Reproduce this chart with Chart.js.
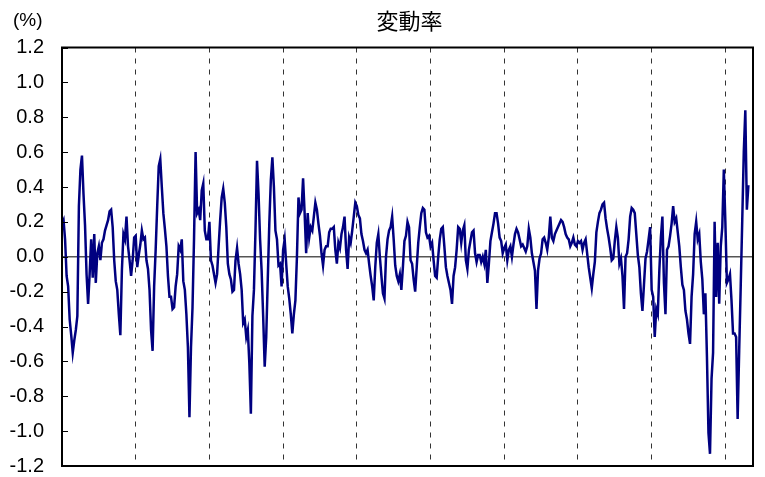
<!DOCTYPE html>
<html>
<head>
<meta charset="utf-8">
<script src="https://cdn.jsdelivr.net/npm/chart.js@4/dist/chart.umd.min.js"></script>
<style>
  html, body { margin: 0; padding: 0; background: #fff; }
</style>
</head>
<body>
<canvas id="chart" width="765" height="477"></canvas>
<script>
// Chart title and unit
const chartTitle = "変動率";
const unitLabel = "(%)";

// Y axis ticks
const yTicks = [-1.2, -1.0, -0.8, -0.6, -0.4, -0.2, 0.0, 0.2, 0.4, 0.6, 0.8, 1.0, 1.2];

// 48 points per year (about weekly), dashed line at each year boundary
const pointsPerYear = 48;
const totalSlots = 450;

// Rate of change (%)
const rateValues = [
  0.19, 0.21, 0.10, -0.11, -0.17, -0.36, -0.45, -0.55, -0.48, -0.42,
  -0.34, 0.29, 0.50, 0.58, 0.36, 0.18, -0.10, -0.27, -0.10, 0.10,
  -0.12, 0.13, -0.15, 0.02, 0.06, -0.02, 0.08, 0.10, 0.15, 0.18,
  0.21, 0.26, 0.27, 0.17, -0.02, -0.14, -0.19, -0.33, -0.45, -0.08,
  0.13, 0.10, 0.23, 0.06, -0.02, -0.11, -0.02, 0.11, 0.12, -0.06,
  0.01, 0.07, 0.15, 0.10, 0.11, -0.02, -0.07, -0.19, -0.42, -0.54,
  -0.17, 0.04, 0.29, 0.52, 0.56, 0.40, 0.25, 0.16, 0.06, -0.11,
  -0.23, -0.23, -0.30, -0.29, -0.17, -0.10, 0.06, 0.04, 0.10, -0.14,
  -0.19, -0.33, -0.52, -0.92, -0.52, -0.29, 0.11, 0.60, 0.25, 0.27,
  0.21, 0.38, 0.42, 0.15, 0.10, 0.10, 0.20, -0.02, -0.05, -0.10,
  -0.15, -0.10, 0.06, 0.21, 0.34, 0.39, 0.31, 0.17, -0.04, -0.10,
  -0.13, -0.20, -0.19, -0.02, 0.05, -0.04, -0.10, -0.19, -0.38, -0.36,
  -0.46, -0.42, -0.61, -0.90, -0.34, -0.19, 0.15, 0.55, 0.36, 0.10,
  -0.08, -0.34, -0.63, -0.46, -0.13, 0.19, 0.44, 0.57, 0.40, 0.15,
  0.10, -0.05, -0.04, -0.17, 0.04, 0.10, -0.04, -0.17, -0.24, -0.33,
  -0.44, -0.33, -0.25, 0.00, 0.34, 0.25, 0.27, 0.45, 0.25, 0.02,
  0.25, 0.11, 0.17, 0.15, 0.23, 0.31, 0.27, 0.19, 0.12, 0.02,
  -0.05, 0.04, 0.06, 0.06, 0.14, 0.16, 0.16, 0.17, 0.04, -0.04,
  0.08, 0.05, 0.13, 0.17, 0.23, 0.04, -0.07, 0.11, 0.08, 0.15,
  0.23, 0.31, 0.29, 0.24, 0.22, 0.13, 0.09, 0.04, 0.02, 0.04,
  -0.04, -0.11, -0.17, -0.25, -0.06, 0.08, 0.13, 0.00, -0.11, -0.21,
  -0.24, 0.00, 0.10, 0.15, 0.17, 0.23, 0.10, -0.05, -0.11, -0.14,
  -0.10, -0.19, -0.06, 0.09, 0.12, 0.20, 0.17, -0.02, -0.04, -0.13,
  -0.20, -0.06, 0.08, 0.17, 0.25, 0.28, 0.27, 0.14, 0.11, 0.12,
  0.06, 0.08, -0.02, -0.11, -0.12, 0.00, 0.10, 0.16, 0.17, 0.06,
  -0.06, -0.11, -0.15, -0.19, -0.27, -0.11, -0.06, 0.04, 0.17, 0.16,
  0.08, 0.15, 0.18, -0.02, -0.07, 0.04, 0.09, 0.14, 0.15, 0.02,
  -0.03, 0.01, 0.01, -0.03, 0.00, -0.04, 0.04, -0.15, -0.04, 0.09,
  0.14, 0.19, 0.25, 0.25, 0.19, 0.11, 0.09, 0.02, 0.05, 0.07,
  -0.02, 0.04, 0.06, 0.00, 0.07, 0.13, 0.16, 0.14, 0.10, 0.06,
  0.07, 0.05, 0.03, 0.06, 0.16, 0.11, 0.02, -0.03, -0.08, -0.30,
  -0.08, -0.01, 0.02, 0.10, 0.11, 0.08, 0.04, 0.11, 0.23, 0.11,
  0.09, 0.13, 0.15, 0.17, 0.19, 0.21, 0.20, 0.17, 0.13, 0.11,
  0.10, 0.06, 0.08, 0.11, 0.07, 0.06, 0.09, 0.08, 0.09, 0.04,
  0.08, 0.10, 0.02, -0.06, -0.12, -0.18, -0.10, -0.03, 0.14, 0.20,
  0.25, 0.27, 0.30, 0.31, 0.22, 0.16, 0.11, 0.05, -0.02, -0.01,
  0.09, 0.17, 0.11, -0.04, -0.01, -0.11, -0.30, 0.00, 0.02, 0.10,
  0.23, 0.28, 0.27, 0.25, 0.13, 0.01, -0.06, -0.21, -0.31, -0.16,
  -0.01, 0.03, 0.10, 0.17, -0.19, -0.23, -0.46, -0.30, -0.33, -0.08,
  0.11, 0.23, -0.15, -0.33, 0.04, 0.06, 0.12, 0.19, 0.29, 0.20,
  0.22, 0.14, 0.06, -0.06, -0.16, -0.19, -0.31, -0.36, -0.44, -0.50,
  -0.23, -0.10, 0.13, 0.20, 0.10, 0.13, -0.03, -0.13, -0.33, -0.21,
  -0.57, -1.01, -1.13, -0.70, -0.55, 0.20, -0.23, 0.08, -0.27, 0.06,
  0.17, 0.50, 0.20, -0.15, -0.13, -0.10, -0.25, -0.44, -0.44, -0.46,
  -0.93, -0.54, -0.17, 0.21, 0.60, 0.84, 0.27, 0.41
];

const labelFont = { family: "'Liberation Sans', Arial, sans-serif", size: 20 };

// Frame, inward y tick marks, title and unit label
const framePlugin = {
  id: "frame",
  afterDraw(chart) {
    const { ctx, chartArea, scales } = chart;
    ctx.save();
    // inward tick marks on the y axis
    ctx.strokeStyle = "#000";
    ctx.lineWidth = 1;
    yTicks.forEach(function (v) {
      const y = Math.round(scales.y.getPixelForValue(v)) + 0.5;
      ctx.beginPath();
      ctx.moveTo(chartArea.left, y);
      ctx.lineTo(chartArea.left + 6, y);
      ctx.stroke();
    });
    // plot frame
    ctx.lineWidth = 2;
    ctx.strokeRect(chartArea.left, chartArea.top, chartArea.right - chartArea.left, chartArea.bottom - chartArea.top);
    // title, centred over the plot area
    ctx.fillStyle = "#000";
    ctx.textBaseline = "middle";
    ctx.textAlign = "center";
    ctx.font = "22px 'Noto Sans CJK JP', sans-serif";
    ctx.fillText(chartTitle, (chartArea.left + chartArea.right) / 2 + 2, 21);
    // unit
    ctx.font = "19px 'Liberation Sans', Arial, sans-serif";
    ctx.textAlign = "left";
    ctx.fillText(unitLabel, 13, 21);
    ctx.restore();
  },
};

const myChart = new Chart(document.getElementById("chart"), {
  type: "line",
  data: {
    datasets: [
      {
        label: chartTitle,
        data: rateValues.map(function (v, i) { return { x: i, y: v }; }),
        borderColor: "#000080",
        borderWidth: 2.5,
        pointRadius: 0,
        tension: 0,
        fill: false,
      },
    ],
  },
  options: {
    responsive: false,
    animation: false,
    devicePixelRatio: 1,
    layout: { padding: { left: 0, right: 12, top: 47.5, bottom: 11 } },
    plugins: {
      legend: { display: false },
      tooltip: { enabled: false },
      title: { display: false },
    },
    scales: {
      x: {
        type: "linear",
        min: 0,
        max: totalSlots,
        ticks: { display: false, stepSize: pointsPerYear, includeBounds: false },
        grid: { color: "#333", lineWidth: 1, drawTicks: false },
        border: { display: false, dash: [5, 6] },
        afterFit(scale) { scale.height = 0; },
      },
      y: {
        min: -1.2,
        max: 1.2,
        ticks: {
          stepSize: 0.2,
          color: "#000",
          font: labelFont,
          padding: 18,
          callback: function (v) { return Math.abs(v) < 1e-9 ? "0.0" : v.toFixed(1); },
        },
        grid: {
          drawTicks: false,
          lineWidth: 1.5,
          color: function (c) { return c.tick && Math.abs(c.tick.value) < 1e-9 ? "#555" : "rgba(0,0,0,0)"; },
        },
        border: { display: false },
        afterFit(scale) {
          scale.width = 62;
          scale.paddingTop = 0;
          scale.paddingBottom = 0;
        },
      },
    },
  },
  plugins: [framePlugin],
});
</script>
</body>
</html>
